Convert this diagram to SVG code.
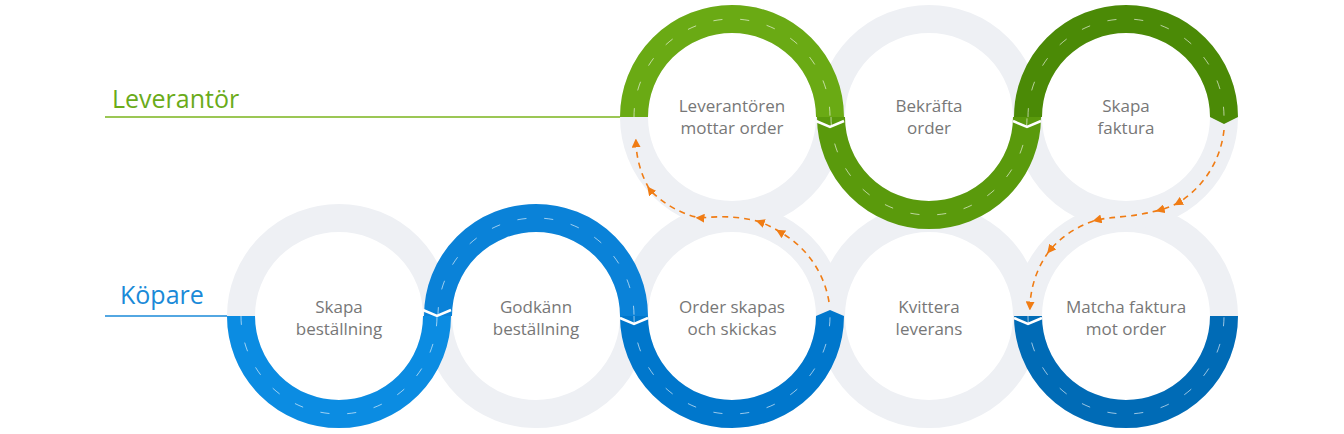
<svg xmlns="http://www.w3.org/2000/svg" width="1344" height="434" viewBox="0 0 1344 434">
<defs>
<style>
.ring{fill:none;stroke:#eef0f4;stroke-width:28}
.arc{fill:none;stroke-width:28}
.dash{fill:none;stroke:#fff;stroke-width:1;stroke-dasharray:9 18;opacity:.6}
.lbl{font-family:"Open Sans","Liberation Sans",sans-serif;font-size:17px;fill:#777;text-anchor:middle}
.cut{fill:none;stroke:#fff;stroke-width:2.5}
.flow{fill:none;stroke:#f07c14;stroke-width:1.6;stroke-dasharray:6 5}
</style>
<marker id="ah" viewBox="0 0 10 10" refX="5" refY="5" markerWidth="9" markerHeight="9" markerUnits="userSpaceOnUse" orient="auto"><path d="M0,0L10,5L0,10z" fill="#f07c14"/></marker>
</defs>
<g id="labels">
<line x1="105" y1="117" x2="634" y2="117" stroke="#7ab51d" stroke-width="1.5"/>
<text x="112" y="108" font-family="Open Sans,Liberation Sans,sans-serif" font-size="25" fill="#6aab1a">Leverantör</text>
<line x1="105" y1="316" x2="241" y2="316" stroke="#1a8ad8" stroke-width="1.5"/>
<text x="120" y="304" font-family="Open Sans,Liberation Sans,sans-serif" font-size="25" fill="#1a8ad8">Köpare</text>
</g>
<g id="rings">
<circle class="ring" cx="339" cy="316" r="98"/>
<circle class="ring" cx="536" cy="316" r="98"/>
<circle class="ring" cx="732" cy="316" r="98"/>
<circle class="ring" cx="929" cy="316" r="98"/>
<circle class="ring" cx="1126" cy="316" r="98"/>
<circle class="ring" cx="732" cy="117" r="98"/>
<circle class="ring" cx="929" cy="117" r="98"/>
<circle class="ring" cx="1126" cy="117" r="98"/>
</g>
<g id="arcs">
<path class="arc" stroke="#6aaa14" d="M634,117 A98,98 0 0 1 830,117"/>
<path class="dash" d="M634,117 A98,98 0 0 1 830,117"/>
<path class="arc" stroke="#5a9a0c" d="M831,117 A98,98 0 0 0 1027,117"/>
<path class="dash" d="M831,117 A98,98 0 0 0 1027,117"/>
<path class="arc" stroke="#4b8a06" d="M1028,117 A98,98 0 0 1 1224,117"/>
<path class="dash" d="M1028,117 A98,98 0 0 1 1224,117"/>
<polygon points="1210,117 1224,124 1238,117" fill="#4b8a06"/>
<path class="arc" stroke="#0b8ce2" d="M241,316 A98,98 0 0 0 437,316"/>
<path class="dash" d="M241,316 A98,98 0 0 0 437,316"/>
<path class="arc" stroke="#0a82d8" d="M438,316 A98,98 0 0 1 634,316"/>
<path class="dash" d="M438,316 A98,98 0 0 1 634,316"/>
<path class="arc" stroke="#0077cc" d="M634,316 A98,98 0 0 0 830,316"/>
<path class="dash" d="M634,316 A98,98 0 0 0 830,316"/>
<polygon points="816,316 830,310 844,316" fill="#0077cc"/>
<path class="arc" stroke="#006bb6" d="M1028,316 A98,98 0 0 0 1224,316"/>
<path class="dash" d="M1028,316 A98,98 0 0 0 1224,316"/>
<polyline class="cut" points="816,121 830,127 844,121"/>
<polyline class="cut" points="1013,121 1027,127 1041,121"/>
<polyline class="cut" points="423,310 437,316 451,310"/>
<polyline class="cut" points="620,318 634,324 648,318"/>
<polyline class="cut" points="1014,318 1028,324 1042,318"/>
</g>
<g id="connectors">
<path class="flow" marker-mid="url(#ah)" marker-end="url(#ah)" d="M829,302 A98,98 0 0 0 780,232 A98,98 0 0 0 760,222 C740,216 720,216 700,218 A98,98 0 0 1 650,190 A98,98 0 0 1 636,143"/>
<path class="flow" marker-mid="url(#ah)" marker-end="url(#ah)" d="M1224,130 A98,98 0 0 1 1178,203 A98,98 0 0 1 1160,210 C1130,218 1115,216 1097,220 A98,98 0 0 0 1050,250 A98,98 0 0 0 1030,306"/>
</g>
<g id="n1"><text class="lbl" x="732" y="112">Leverantören</text><text class="lbl" x="732" y="134">mottar order</text></g>
<g id="n2"><text class="lbl" x="929" y="112">Bekräfta</text><text class="lbl" x="929" y="134">order</text></g>
<g id="n3"><text class="lbl" x="1126" y="112">Skapa</text><text class="lbl" x="1126" y="134">faktura</text></g>
<g id="n4"><text class="lbl" x="339" y="313">Skapa</text><text class="lbl" x="339" y="335">beställning</text></g>
<g id="n5"><text class="lbl" x="536" y="313">Godkänn</text><text class="lbl" x="536" y="335">beställning</text></g>
<g id="n6"><text class="lbl" x="732" y="313">Order skapas</text><text class="lbl" x="732" y="335">och skickas</text></g>
<g id="n7"><text class="lbl" x="929" y="313">Kvittera</text><text class="lbl" x="929" y="335">leverans</text></g>
<g id="n8"><text class="lbl" x="1126" y="313">Matcha faktura</text><text class="lbl" x="1126" y="335">mot order</text></g>
</svg>
